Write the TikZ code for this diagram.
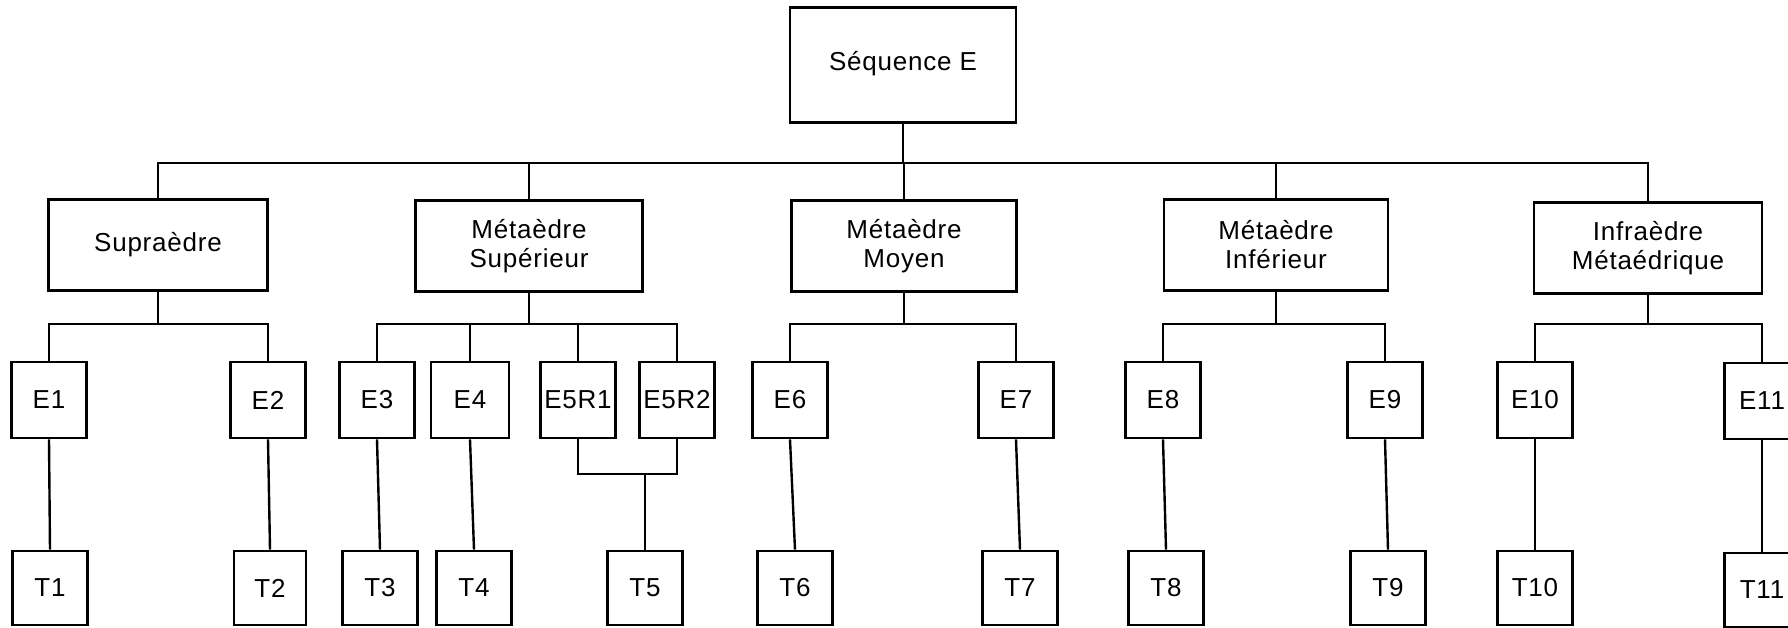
\documentclass[tikz,border=0pt]{standalone}
\usepackage{fontspec}
\newfontfamily\lettering[LetterSpace=3]{Liberation Sans}
\begin{document}
\begin{tikzpicture}[x=0.5pt,y=-0.5pt,
  box/.style={draw, line width=1.4pt, inner sep=0pt, align=center,
    font=\lettering\fontsize{13}{14.5}\selectfont},
  topbox/.style={box, minimum width=113pt, minimum height=57.5pt},
  midbox/.style={box, minimum width=112pt, minimum height=45.5pt},
  ebox/.style={box, minimum width=37.5pt, minimum height=38pt},
  tbox/.style={box, minimum width=37.5pt, minimum height=37pt},
  link/.style={line width=1.2pt}]
\clip (0,0) rectangle (1788,627);
\fill[white] (0,0) rectangle (1788,627);
\coordinate (bar) at (0,163);
\coordinate (bar2) at (0,324);
\coordinate (j5) at (645,474);
% top
\node[topbox] (seq) at (903,65) {\raisebox{4pt}{Séquence E}};
% level 2
\node[midbox, minimum width=109.5pt] (sup) at (158,245) {Supraèdre};
\node[midbox, minimum width=113.5pt] (msup) at (529,246) {Métaèdre\\Supérieur};
\node[midbox, minimum width=112.5pt] (mmoy) at (904,246) {Métaèdre\\Moyen};
\node[midbox] (minf) at (1276,245) {Métaèdre\\Inférieur};
\node[midbox, minimum width=114pt] (infra) at (1648,248) {Infraèdre\\Métaédrique};
% level 3
\node[ebox] (E1) at (49,400) {E1};
\node[ebox] (E2) at (268,400) {E2};
\node[ebox] (E3) at (377,400) {E3};
\node[ebox, minimum width=39pt] (E4) at (470,400) {E4};
\node[ebox] (E5R1) at (578,400) {E5R1};
\node[ebox] (E5R2) at (677,400) {E5R2};
\node[ebox] (E6) at (790,400) {E6};
\node[ebox] (E7) at (1016,400) {E7};
\node[ebox] (E8) at (1163,400) {E8};
\node[ebox] (E9) at (1385,400) {E9};
\node[ebox] (E10) at (1535,400) {E10};
\node[ebox] (E11) at (1762,401) {E11};
% level 4
\node[tbox] (T1) at (50,588) {T1};
\node[tbox, minimum width=36pt] (T2) at (270,588) {T2};
\node[tbox] (T3) at (380,588) {T3};
\node[tbox] (T4) at (474,588) {T4};
\node[tbox] (T5) at (645,588) {T5};
\node[tbox] (T6) at (795,588) {T6};
\node[tbox] (T7) at (1020,588) {T7};
\node[tbox] (T8) at (1166,588) {T8};
\node[tbox] (T9) at (1388,588) {T9};
\node[tbox] (T10) at (1535,588) {T10};
\node[tbox] (T11) at (1762,590) {T11};
% connectors level 1-2
\draw[link] (seq.south) -- (seq.south |- bar);
\draw[link] (sup.north) |- (infra.north |- bar) -- (infra.north);
\draw[link] (msup.north) -- (msup.north |- bar);
\draw[link] (mmoy.north) -- (mmoy.north |- bar);
\draw[link] (minf.north) -- (minf.north |- bar);
% connectors level 2-3
\draw[link] (sup.south) -- (sup.south |- bar2);
\draw[link] (E1.north) |- (E2.north |- bar2) -- (E2.north);
\draw[link] (msup.south) -- (msup.south |- bar2);
\draw[link] (E3.north) |- (E5R2.north |- bar2) -- (E5R2.north);
\draw[link] (E4.north) -- (E4.north |- bar2);
\draw[link] (E5R1.north) -- (E5R1.north |- bar2);
\draw[link] (mmoy.south) -- (mmoy.south |- bar2);
\draw[link] (E6.north) |- (E7.north |- bar2) -- (E7.north);
\draw[link] (minf.south) -- (minf.south |- bar2);
\draw[link] (E8.north) |- (E9.north |- bar2) -- (E9.north);
\draw[link] (infra.south) -- (infra.south |- bar2);
\draw[link] (E10.north) |- (E11.north |- bar2) -- (E11.north);
% connectors level 3-4
\draw[link] (E1.south) -- (T1.north);
\draw[link] (E2.south) -- (T2.north);
\draw[link] (E3.south) -- (T3.north);
\draw[link] (E4.south) -- (T4.north);
\draw[link] (E5R1.south) |- (E5R2.south |- j5) -- (E5R2.south);
\draw[link] (j5) -- (T5.north);
\draw[link] (E6.south) -- (T6.north);
\draw[link] (E7.south) -- (T7.north);
\draw[link] (E8.south) -- (T8.north);
\draw[link] (E9.south) -- (T9.north);
\draw[link] (E10.south) -- (T10.north);
\draw[link] (E11.south) -- (T11.north);
\end{tikzpicture}
\end{document}
